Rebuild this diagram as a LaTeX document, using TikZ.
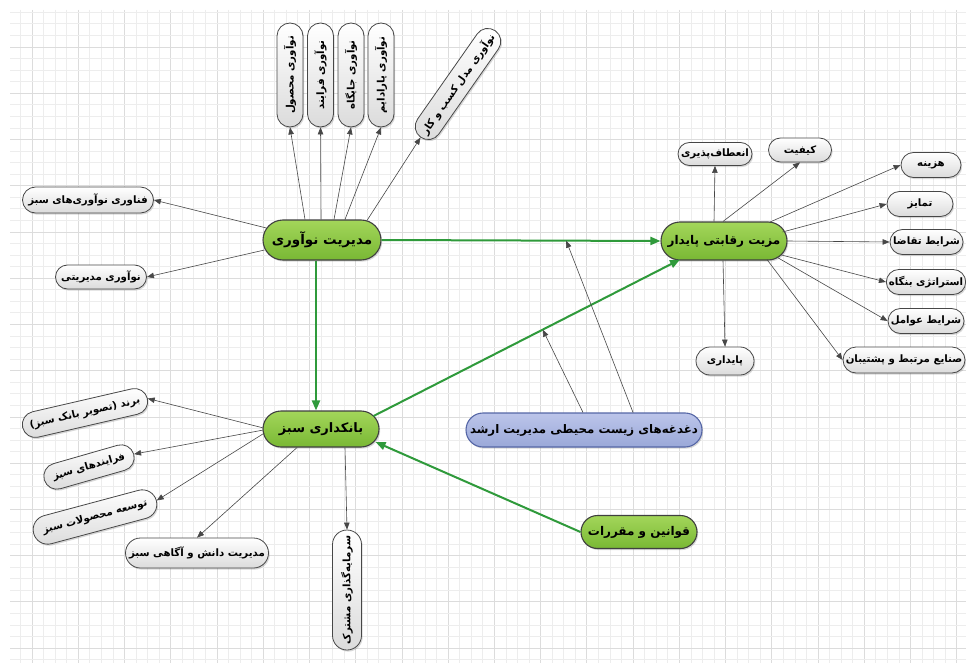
\documentclass[tikz,border=0pt]{standalone}
\usepackage{fontspec}
\usetikzlibrary{shapes.misc,shadows,arrows.meta,calc}
\TeXXeTstate=1
\newfontfamily\fa[Script=Arabic]{DejaVu Sans}
\newcommand\fatx[1]{\beginR #1\endR}
\definecolor{gridminor}{HTML}{EDEDED}
\definecolor{gridmajor}{HTML}{DCDCDC}
\definecolor{greentop}{HTML}{A3D65A}
\definecolor{greenbot}{HTML}{79B834}
\definecolor{bluetop}{HTML}{BCC5EA}
\definecolor{bluebot}{HTML}{9AA8D8}
\definecolor{blueline}{HTML}{5566A6}
\definecolor{greenarrow}{HTML}{2F9A3B}
\definecolor{edgegray}{HTML}{474747}
\tikzset{
  pill/.style={rounded rectangle, inner sep=1pt, align=center,
    drop shadow={shadow xshift=1.2pt, shadow yshift=-1.6pt, opacity=0.3}},
  leaf/.style={pill, draw=edgegray, line width=0.8pt, top color=white, bottom color=black!14,
    font=\fa\bfseries\fontsize{10.2}{12}\selectfont, minimum height=25pt},
  core/.style={pill, draw=black!75, line width=1.1pt, top color=greentop, bottom color=greenbot,
    font=\fa\bfseries\fontsize{12}{14}\selectfont, minimum height=38pt},
  concern/.style={pill, draw=blueline, line width=1.1pt, top color=bluetop, bottom color=bluebot,
    font=\fa\bfseries\fontsize{11.8}{14}\selectfont, minimum height=34pt},
  link/.style={draw=edgegray, line width=0.6pt, -{Triangle[length=7pt,width=5.5pt]}},
  strong/.style={draw=greenarrow, line width=2pt, -{Triangle[length=10pt,width=8pt]}},
}
\begin{document}
\begin{tikzpicture}[x=1pt,y=-1pt]
\useasboundingbox (0,0) rectangle (966,663);
\fill[white] (0,0) rectangle (966,663);
% grid
\foreach \i in {0,...,81}{
  \pgfmathsetmacro\gx{20.44+11.56*\i}
  \pgfmathtruncatemacro\m{mod(\i+3,4)}
  \ifnum\m=0 \draw[gridmajor,line width=0.8pt] (\gx,10) -- (\gx,663);
  \else \draw[gridminor,line width=0.8pt] (\gx,10) -- (\gx,663); \fi
}
\foreach \j in {0,...,56}{
  \pgfmathsetmacro\gy{12.33+11.56*\j}
  \pgfmathtruncatemacro\m{mod(\j+1,4)}
  \ifnum\m=0 \draw[gridmajor,line width=0.8pt] (10,\gy) -- (966,\gy);
  \else \draw[gridminor,line width=0.8pt] (10,\gy) -- (966,\gy); \fi
}

% core nodes
\node[core, minimum width=120pt, minimum height=40pt, font=\fa\bfseries\fontsize{13.5}{15}\selectfont] (inn) at (322,240) {\fatx{مدیریت نوآوری}};
\node[core, minimum width=128pt] (adv) at (724,241) {\fatx{مزیت رقابتی پایدار}};
\node[core, minimum width=118pt, minimum height=36pt, font=\fa\bfseries\fontsize{13}{15}\selectfont] (bank) at (321,429) {\fatx{بانکداری سبز}};
\node[concern, minimum width=238pt] (conc) at (584,430) {\fatx{دغدغه‌های زیست محیطی مدیریت ارشد}};
\node[core, minimum width=118pt, minimum height=33pt] (law) at (639,532) {\fatx{قوانین و مقررات}};

% top nodes
\node[leaf, rotate=90, minimum width=106pt, minimum height=26pt] (t1) at (290,75) {\fatx{نوآوری محصول}};
\node[leaf, rotate=90, minimum width=106pt, minimum height=26pt] (t2) at (320.5,75) {\fatx{نوآوری فرایند}};
\node[leaf, rotate=90, minimum width=106pt, minimum height=26pt] (t3) at (351,75) {\fatx{نوآوری جایگاه}};
\node[leaf, rotate=90, minimum width=106pt, minimum height=26pt] (t4) at (381,75) {\fatx{نوآوری پارادایم}};
\node[leaf, rotate=55, minimum width=132pt, minimum height=26pt] (t5) at (458,84) {\fatx{نوآوری مدل کسب و کار}};

% left of innovation
\node[leaf, minimum width=133pt, minimum height=26pt] (l1) at (88,200) {\fatx{فناوری نوآوری‌های سبز}};
\node[leaf, minimum width=93pt, minimum height=24pt] (l2) at (101,277) {\fatx{نوآوری مدیریتی}};

% right of advantage
\node[leaf, minimum width=76pt, minimum height=23pt] (r1) at (715,154) {\fatx{انعطاف‌پذیری}};
\node[leaf, minimum width=65pt, minimum height=24pt] (r2) at (800,150) {\fatx{کیفیت}};
\node[leaf, minimum width=62pt] (r3) at (931,165) {\fatx{هزینه}};
\node[leaf, minimum width=68pt] (r4) at (920,204) {\fatx{تمایز}};
\node[leaf, minimum width=75pt] (r5) at (926.5,242) {\fatx{شرایط تقاضا}};
\node[leaf, minimum width=78pt] (r6) at (926,282) {\fatx{استراتژی بنگاه}};
\node[leaf, minimum width=78pt] (r7) at (926,321) {\fatx{شرایط عوامل}};
\node[leaf, minimum width=124pt, minimum height=26pt] (r8) at (904,360) {\fatx{صنایع مرتبط و پشتیبان}};
\node[leaf, minimum width=60pt, minimum height=28pt] (r9) at (725,361) {\fatx{پایداری}};

% left of green banking
\node[leaf, rotate=13, minimum width=130pt, minimum height=26pt] (b1) at (85,413) {\fatx{برند (تصویر بانک سبز)}};
\node[leaf, rotate=16, minimum width=95pt, minimum height=26pt] (b2) at (89,467) {\fatx{فرایندهای سبز}};
\node[leaf, rotate=15, minimum width=129pt, minimum height=29pt] (b3) at (95,517) {\fatx{توسعه محصولات سبز}};
\node[leaf, minimum width=145pt, minimum height=30pt] (b4) at (197,553) {\fatx{مدیریت دانش و آگاهی سبز}};
\node[leaf, rotate=90, minimum width=122pt, minimum height=29pt] (b5) at (347,590) {\fatx{سرمایه‌گذاری مشترک}};

% connectors from innovation management
\draw[link] ($(inn.north)+(-17,0)$) -- (t1.west);
\draw[link] ($(inn.north)+(-1,0)$) -- (t2.west);
\draw[link] ($(inn.north)+(12,0)$) -- (t3.west);
\draw[link] ($(inn.north)+(23,0)$) -- (t4.west);
\draw[link] ($(inn.north)+(45,1)$) -- (t5.west);
\draw[link] ($(inn.west)+(4,-12)$) -- (l1.east);
\draw[link] ($(inn.west)+(2,10)$) -- (l2.east);

% connectors from competitive advantage
\draw[link] ($(adv.north)+(-10,0)$) -- (r1.south);
\draw[link] ($(adv.north)+(-1,0)$) -- (r2.south);
\draw[link] ($(adv.north)+(45,1)$) -- (r3.west);
\draw[link] ($(adv.east)+(-5,-9)$) -- (r4.west);
\draw[link] (adv.east) -- (r5.west);
\draw[link] ($(adv.east)+(-6,14)$) -- (r6.west);
\draw[link] ($(adv.east)+(-11,16)$) -- (r7.west);
\draw[link] ($(adv.south)+(43,-1)$) -- (r8.west);
\draw[link] ($(adv.south)+(-1,0)$) -- (r9.north);

% connectors from green banking
\draw[link] ($(bank.west)+(1,-1)$) -- (b1.east);
\draw[link] ($(bank.west)+(1,1)$) -- (b2.east);
\draw[link] ($(bank.west)+(2,4)$) -- (b3.east);
\draw[link] ($(bank.south)+(-24,0)$) -- (b4.north);
\draw[link] ($(bank.south)+(24,0)$) -- (b5.east);

% main green connectors
\draw[strong] (inn.east) -- coordinate[pos=0.662] (mh) (adv.west);
\draw[strong] ($(inn.south)+(-6,0)$) -- ($(bank.north)+(-5,0)$);
\draw[strong] ($(bank.east)+(-6,-13)$) -- coordinate[pos=0.552] (md) ($(adv.south)+(-44,-1)$);
\draw[strong] (law.west) -- ($(bank.east)+(-4,13)$);

% moderating connectors
\draw[link] ($(conc.north)+(-1,0)$) -- (md);
\draw[link] ($(conc.north)+(49,0)$) -- (mh);
\end{tikzpicture}
\end{document}
